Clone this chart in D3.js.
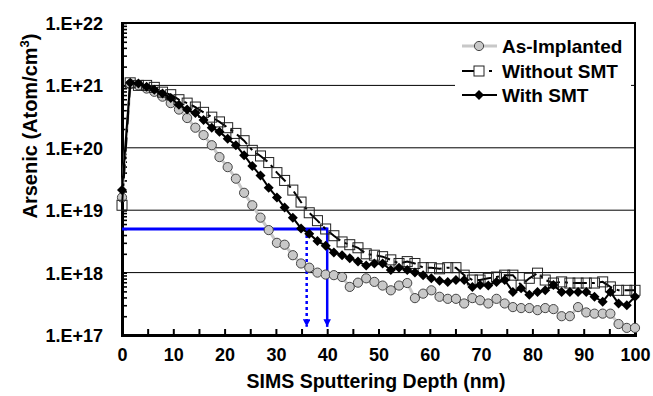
<!DOCTYPE html>
<html>
<head>
<meta charset="utf-8">
<script src="https://cdn.jsdelivr.net/npm/d3@7"></script>
<style>
  body { margin: 0; background: #fff; }
  text { font-family: "Liberation Sans", Arial, sans-serif; font-weight: bold; fill: #000; }
</style>
</head>
<body>
<svg id="chart" width="653" height="396"></svg>
<script>
// depth (nm) of each SIMS sample
const depth = [0, 1.6, 3.2, 4.8, 6.3, 7.9, 9.5, 11.1, 12.7, 14.3, 15.9, 17.5, 19.0, 20.6, 22.2, 23.8,
  25.4, 27.0, 28.6, 30.2, 31.7, 33.3, 34.9, 36.5, 38.1, 39.7, 41.3, 42.9, 44.4, 46.0, 47.6, 49.2,
  50.8, 52.4, 54.0, 55.6, 57.1, 58.7, 60.3, 61.9, 63.5, 65.1, 66.7, 68.3, 69.8, 71.4, 73.0, 74.6,
  76.2, 77.8, 79.4, 81.0, 82.5, 84.1, 85.7, 87.3, 88.9, 90.5, 92.1, 93.7, 95.2, 96.8, 98.4, 100.0];

const asImplanted = [1.6e19, 1.05e21, 1.0e21, 8.9e20, 7.9e20, 6.6e20, 5.2e20, 4.1e20, 3.0e20, 2.1e20,
  1.6e20, 1.1e20, 7.1e19, 4.9e19, 3.2e19, 1.9e19, 1.2e19, 7.6e18, 4.8e18, 3.0e18, 2.8e18, 1.9e18,
  1.4e18, 1.2e18, 1.0e18, 9.3e17, 9.1e17, 8.5e17, 5.9e17, 6.9e17, 8.1e17, 7.1e17, 6.2e17, 5.2e17,
  6.2e17, 6.8e17, 3.9e17, 4.6e17, 5.2e17, 4.1e17, 3.8e17, 3.8e17, 3.2e17, 3.9e17, 3.6e17, 3.2e17,
  3.8e17, 3.2e17, 2.8e17, 2.7e17, 2.7e17, 2.5e17, 2.7e17, 2.6e17, 2.0e17, 2.0e17, 2.8e17, 2.3e17,
  2.2e17, 2.2e17, 2.2e17, 1.5e17, 1.3e17, 1.3e17];

const withoutSMT = [1.2e19, 1.1e21, 1.0e21, 1.0e21, 9.3e20, 7.8e20, 7.1e20, 5.9e20, 5.2e20, 4.5e20,
  3.7e20, 3.1e20, 2.6e20, 2.1e20, 1.7e20, 1.3e20, 9.1e19, 7.4e19, 5.8e19, 4.0e19, 3.0e19, 2.1e19,
  1.35e19, 9.1e18, 6.8e18, 5.0e18, 3.9e18, 3.1e18, 2.8e18, 2.5e18, 2.0e18, 1.9e18, 1.8e18, 1.6e18,
  1.4e18, 1.5e18, 1.4e18, 1.2e18, 1.2e18, 1.15e18, 1.2e18, 1.2e18, 9.1e17, 7.6e17, 7.6e17, 8.1e17,
  8.5e17, 9.1e17, 9.1e17, 6.3e17, 8.1e17, 9.8e17, 7.6e17, 6.8e17, 7.1e17, 6.8e17, 6.8e17, 6.8e17,
  6.8e17, 7.1e17, 5.9e17, 5.2e17, 5.2e17, 5.2e17];

const withSMT = [2.1e19, 1.1e21, 1.07e21, 9.5e20, 8.5e20, 7.4e20, 6.3e20, 4.9e20, 4.1e20, 3.6e20,
  2.8e20, 2.1e20, 1.8e20, 1.4e20, 1.1e20, 7.6e19, 5.1e19, 3.6e19, 2.3e19, 1.6e19, 1.1e19, 7.6e18,
  5.1e18, 4.2e18, 3.2e18, 2.7e18, 2.1e18, 1.9e18, 1.7e18, 1.5e18, 1.3e18, 1.4e18, 1.4e18, 1.1e18,
  1.2e18, 1.1e18, 1.0e18, 9.1e17, 8.1e17, 7.4e17, 7.1e17, 7.6e17, 7.6e17, 5.9e17, 6.3e17, 6.2e17,
  7.1e17, 7.6e17, 4.9e17, 5.6e17, 4.4e17, 4.9e17, 5.2e17, 6.3e17, 4.9e17, 4.9e17, 4.9e17, 4.9e17,
  4.1e17, 3.4e17, 4.9e17, 3.2e17, 3.0e17, 4.1e17];

const seriesNames = ["As-Implanted", "Without SMT", "With SMT"];
const xTicks = [0, 10, 20, 30, 40, 50, 60, 70, 80, 90, 100];
const yTicks = [1e17, 1e18, 1e19, 1e20, 1e21, 1e22];

// blue guide: level 5E+18, junction depths 36 nm (with SMT) and 40 nm (without SMT)
const guideLevel = 5e18;
const guideDepths = [36, 40];
const guideEnd = 1.35e17;

const svg = d3.select("#chart");
const pLeft = 122, pRight = 635, pTop = 23, pBottom = 335;

const x = d3.scaleLinear().domain([0, 100]).range([pLeft, pRight]);
const y = d3.scaleLog().domain([1e17, 1e22]).range([pBottom, pTop]);

// gridlines at decades
svg.append("g")
  .selectAll("line")
  .data(yTicks.slice(1, -1))
  .join("line")
  .attr("x1", pLeft).attr("x2", pRight)
  .attr("y1", d => y(d)).attr("y2", d => y(d))
  .attr("stroke", "#000").attr("stroke-width", 1);

// frame (top / right)
svg.append("rect")
  .attr("x", pLeft).attr("y", pTop)
  .attr("width", pRight - pLeft).attr("height", pBottom - pTop)
  .attr("fill", "none").attr("stroke", "#000").attr("stroke-width", 2);

// minor ticks on y axis (inside)
const minor = [];
for (let e = 17; e < 22; e++) for (let m = 1; m <= 10; m++) minor.push(m * Math.pow(10, e));
svg.append("g")
  .attr("transform", `translate(${pLeft},0)`)
  .call(d3.axisLeft(y).tickValues(minor).tickSize(-5).tickFormat(""))
  .call(g => g.select(".domain").remove())
  .call(g => g.selectAll("line").attr("stroke", "#000").attr("stroke-width", 1.6));

// y labels
svg.append("g")
  .attr("transform", `translate(${pLeft},0)`)
  .call(d3.axisLeft(y).tickValues(yTicks).tickSize(0).tickPadding(19)
    .tickFormat(d => "1.E+" + Math.round(Math.log10(d))))
  .call(g => g.select(".domain").attr("stroke", "#000").attr("stroke-width", 3))
  .call(g => g.selectAll("text").style("font-size", "18px").attr("dy", "0.36em"));

// x axis, ticks every 5 nm pointing up
svg.append("g")
  .attr("transform", `translate(0,${pBottom})`)
  .call(d3.axisBottom(x).tickValues(d3.range(0, 101, 5)).tickSize(-6).tickFormat(""))
  .call(g => g.select(".domain").attr("stroke", "#000").attr("stroke-width", 3))
  .call(g => g.selectAll("line").attr("stroke", "#000").attr("stroke-width", 2));

svg.append("g")
  .attr("transform", `translate(0,${pBottom})`)
  .call(d3.axisBottom(x).tickValues(xTicks).tickSize(0).tickPadding(13).tickFormat(d3.format("d")))
  .call(g => g.select(".domain").remove())
  .call(g => g.selectAll("text").style("font-size", "18px"));

// axis titles
svg.append("text")
  .attr("x", 376).attr("y", 388)
  .attr("text-anchor", "middle")
  .style("font-size", "19.5px")
  .text("SIMS Sputtering Depth (nm)");

const yt = svg.append("text")
  .attr("transform", "translate(37,126) rotate(-90)")
  .attr("text-anchor", "middle")
  .style("font-size", "20px");
yt.append("tspan").text("Arsenic (Atom/cm");
yt.append("tspan").attr("dy", -8).style("font-size", "13px").text("3");
yt.append("tspan").attr("dy", 8).text(")");

// blue guide lines (under the data)
const blue = "#0000ff";
svg.append("defs").append("marker")
  .attr("id", "arrow").attr("viewBox", "0 0 10 10")
  .attr("refX", 10).attr("refY", 5)
  .attr("markerWidth", 3).attr("markerHeight", 3)
  .attr("markerUnits", "strokeWidth")
  .attr("orient", "auto")
  .append("path").attr("d", "M0,0L10,5L0,10Z").attr("fill", blue);

svg.append("line")
  .attr("x1", x(0)).attr("x2", x(guideDepths[1]))
  .attr("y1", y(guideLevel)).attr("y2", y(guideLevel))
  .attr("stroke", blue).attr("stroke-width", 3);

svg.append("line")
  .attr("x1", x(guideDepths[1])).attr("x2", x(guideDepths[1]))
  .attr("y1", y(guideLevel) - 1.5).attr("y2", y(guideEnd))
  .attr("stroke", blue).attr("stroke-width", 2.5)
  .attr("marker-end", "url(#arrow)");

svg.append("line")
  .attr("x1", x(guideDepths[0])).attr("x2", x(guideDepths[0]))
  .attr("y1", y(guideLevel)).attr("y2", y(guideEnd))
  .attr("stroke", blue).attr("stroke-width", 2.5)
  .attr("stroke-dasharray", "3,3")
  .attr("marker-end", "url(#arrow)");

// data
const pts = arr => depth.map((d, i) => [d, arr[i]]);
const line = d3.line().x(d => x(d[0])).y(d => y(d[1]));
const diamond = "M0,-5L5,0L0,5L-5,0Z";

// As-Implanted
svg.append("path").datum(pts(asImplanted))
  .attr("d", line).attr("fill", "none")
  .attr("stroke", "#c8c8c8").attr("stroke-width", 3);
svg.append("g").selectAll("circle")
  .data(pts(asImplanted)).join("circle")
  .attr("cx", d => x(d[0])).attr("cy", d => y(d[1])).attr("r", 4.6)
  .attr("fill", "#c8c8c8").attr("stroke", "#444").attr("stroke-width", 1);

// Without SMT
svg.append("path").datum(pts(withoutSMT))
  .attr("d", line).attr("fill", "none")
  .attr("stroke", "#000").attr("stroke-width", 2)
  .attr("stroke-dasharray", "14,5,3,5");
svg.append("g").selectAll("rect")
  .data(pts(withoutSMT)).join("rect")
  .attr("x", d => x(d[0]) - 5).attr("y", d => y(d[1]) - 5)
  .attr("width", 10).attr("height", 10)
  .attr("fill", "none").attr("stroke", "#222").attr("stroke-width", 1);

// With SMT
svg.append("path").datum(pts(withSMT))
  .attr("d", line).attr("fill", "none")
  .attr("stroke", "#000").attr("stroke-width", 2);
svg.append("g").selectAll("path")
  .data(pts(withSMT)).join("path")
  .attr("transform", d => `translate(${x(d[0])},${y(d[1])})`)
  .attr("d", diamond).attr("fill", "#000");

// legend
const lg = svg.append("g");
lg.append("rect").attr("x", 455).attr("y", 31).attr("width", 176).attr("height", 74).attr("fill", "#fff");
const rows = [46, 71, 95];
const lx0 = 462, lx1 = 497, lm = 479, tx = 502;

lg.append("line").attr("x1", lx0).attr("x2", lx1).attr("y1", rows[0]).attr("y2", rows[0])
  .attr("stroke", "#c8c8c8").attr("stroke-width", 3);
lg.append("circle").attr("cx", lm).attr("cy", rows[0]).attr("r", 4.6)
  .attr("fill", "#c8c8c8").attr("stroke", "#444");

lg.append("line").attr("x1", lx0).attr("x2", lx1).attr("y1", rows[1]).attr("y2", rows[1])
  .attr("stroke", "#000").attr("stroke-width", 2).attr("stroke-dasharray", "14,13,3,5");
lg.append("rect").attr("x", lm - 5).attr("y", rows[1] - 5).attr("width", 10).attr("height", 10)
  .attr("fill", "#fff").attr("stroke", "#222");

lg.append("line").attr("x1", lx0).attr("x2", lx1).attr("y1", rows[2]).attr("y2", rows[2])
  .attr("stroke", "#000").attr("stroke-width", 2);
lg.append("path").attr("transform", `translate(${lm},${rows[2]})`).attr("d", diamond).attr("fill", "#000");

lg.selectAll("text.lab").data(seriesNames).join("text")
  .attr("class", "lab")
  .attr("x", tx).attr("y", (d, i) => rows[i] + 7)
  .style("font-size", "19px")
  .text(d => d);
</script>
</body>
</html>
